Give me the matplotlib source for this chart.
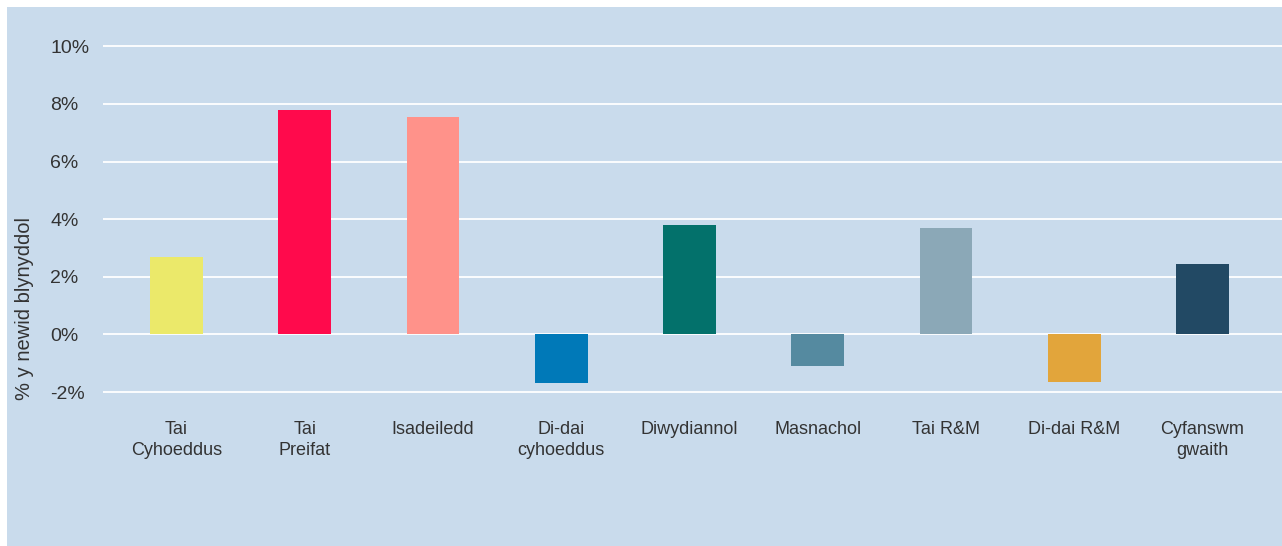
import matplotlib.pyplot as plt
from matplotlib.patches import Rectangle

# data (% annual change)
categories = ["Tai\nCyhoeddus", "Tai\nPreifat", "Isadeiledd", "Di-dai\ncyhoeddus",
              "Diwydiannol", "Masnachol", "Tai R&M", "Di-dai R&M", "Cyfanswm\ngwaith"]
values = [2.7, 7.8, 7.55, -1.7, 3.8, -1.1, 3.7, -1.65, 2.45]
colors = ["#ebe96a", "#ff0a4c", "#ff928a", "#0079b8", "#03716b",
          "#558aa0", "#8ba8b7", "#e2a53b", "#224964"]
yticks = [-2, 0, 2, 4, 6, 8, 10]

panel_clr = "#c9dbec"
text_clr = "#333333"

plt.rcParams['font.family'] = ['Liberation Sans', 'DejaVu Sans']

W, H = 1282, 546
fig = plt.figure(figsize=(W / 100, H / 100), dpi=100, facecolor="white")

# light blue panel behind everything
fig.patches.append(Rectangle((7 / W, 0), 1 - 7 / W, 1 - 7 / H,
                             transform=fig.transFigure, facecolor=panel_clr,
                             edgecolor="none", zorder=-5))

# axes box in pixel coords: left 103, right 1282, top ~45, bottom ~393
left, right, top, bottom = 103, 1282, 44.9, 393.5
ax = fig.add_axes([left / W, 1 - bottom / H, (right - left) / W, (bottom - top) / H])
ax.set_facecolor("none")

xs = list(range(len(categories)))
ax.bar(xs, values, width=0.41, color=colors, zorder=3)

ax.set_xlim(-0.573, 8.62)
ax.set_ylim(-2.05, 10.05)
ax.set_yticks(yticks)
ax.set_yticklabels([f"{v}%" for v in yticks], fontsize=14, color=text_clr, ha="left")
ax.yaxis.grid(True, color="white", linewidth=1.3, zorder=1)
ax.tick_params(axis="y", length=0, pad=38)

ax.set_xticks(xs)
ax.set_xticklabels(categories, fontsize=13, color=text_clr, linespacing=1.3, va="top")
ax.tick_params(axis="x", length=0, pad=20)

for s in ax.spines.values():
    s.set_visible(False)

fig.text(25 / W, 1 - 309 / H, "% y newid blynyddol", rotation=90, fontsize=14.5,
         color=text_clr, ha="center", va="center")

fig.savefig("out.png", dpi=100, facecolor="white")
